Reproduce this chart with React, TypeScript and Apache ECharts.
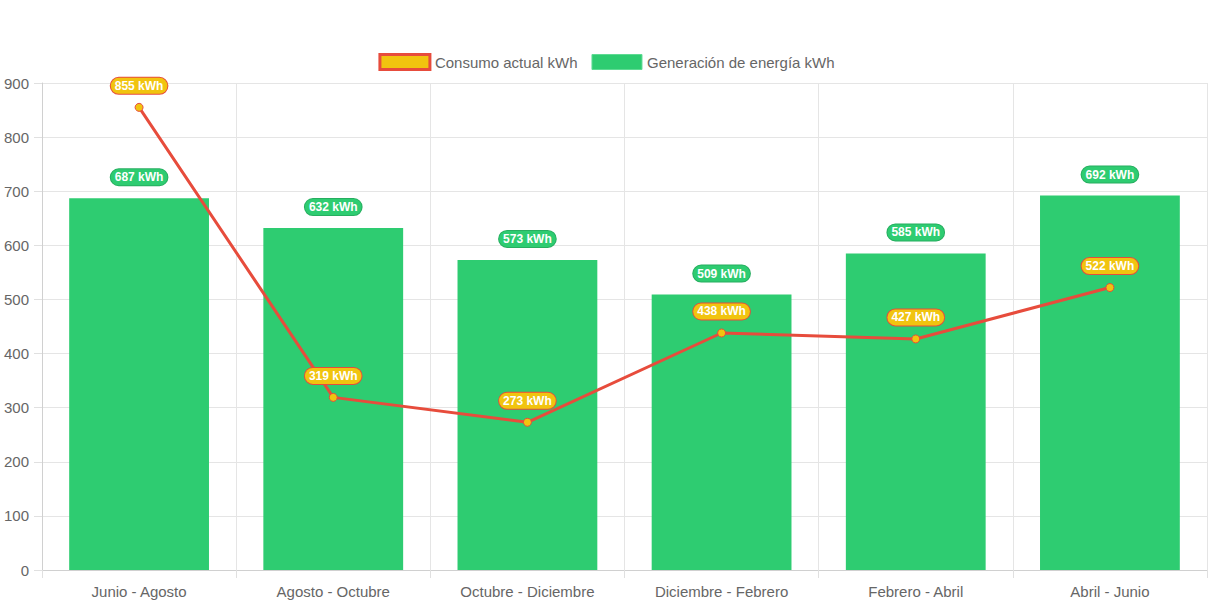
import React, { useEffect, useRef } from "react";
import * as echarts from "echarts";

const categories = [
  "Junio - Agosto",
  "Agosto - Octubre",
  "Octubre - Diciembre",
  "Diciembre - Febrero",
  "Febrero - Abril",
  "Abril - Junio",
];
const consumo = [855, 319, 273, 438, 427, 522];
const generacion = [687, 632, 573, 509, 585, 692];
const yTicks = { min: 0, max: 900, interval: 100 };

const FONT = "'Liberation Sans', Arial, Helvetica, sans-serif";

export default function App() {
  const ref = useRef<HTMLDivElement>(null);
  useEffect(() => {
    if (!ref.current) return;
    const chart = echarts.init(ref.current, undefined, { renderer: "svg" });
    chart.setOption({
      animation: false,
      textStyle: { fontFamily: FONT },
      legend: {
        top: 48,
        left: "center",
        itemWidth: 50,
        itemHeight: 15,
        itemGap: 14,
        textStyle: { color: "#666", fontSize: 15, fontFamily: FONT },
        data: [
          {
            name: "Consumo actual kWh",
            icon: "rect",
            itemStyle: { color: "#f1c40f", borderColor: "#e74c3c", borderWidth: 3 },
          },
          {
            name: "Generación de energía kWh",
            icon: "rect",
            itemStyle: { color: "#2ecc71", borderColor: "#5edb93", borderWidth: 1 },
          },
        ],
      },
      grid: { left: 42, right: 6, top: 83, bottom: 36, containLabel: false },
      xAxis: {
        type: "category",
        data: categories,
        boundaryGap: true,
        axisLine: { show: true, lineStyle: { color: "#d0d0d0", width: 1 } },
        axisTick: { show: true, length: 8, lineStyle: { color: "#e0e0e0" } },
        splitLine: { show: true, lineStyle: { color: "#e5e5e5" } },
        axisLabel: { color: "#666", fontSize: 15, margin: 14, fontFamily: FONT },
      },
      yAxis: {
        type: "value",
        min: yTicks.min,
        max: yTicks.max,
        interval: yTicks.interval,
        axisLine: { show: true, lineStyle: { color: "#d0d0d0", width: 1 } },
        axisTick: { show: true, length: 8, lineStyle: { color: "#e0e0e0" } },
        splitLine: { show: true, lineStyle: { color: "#e5e5e5" } },
        axisLabel: { color: "#666", fontSize: 15, margin: 13, fontFamily: FONT },
      },
      series: [
        {
          name: "Generación de energía kWh",
          type: "bar",
          data: generacion,
          barWidth: "72%",
          itemStyle: { color: "#2ecc71" },
          z: 2,
          label: {
            show: true,
            position: "top",
            distance: 13,
            formatter: "{c} kWh",
            color: "#fff",
            fontWeight: "bold",
            fontSize: 12,
            fontFamily: FONT,
            backgroundColor: "#2ecc71",
            borderColor: "#27ae60",
            borderWidth: 1,
            borderRadius: 8,
            padding: [2, 4, 2, 4],
          },
        },
        {
          name: "Consumo actual kWh",
          type: "line",
          data: consumo,
          z: 5,
          lineStyle: { color: "#e74c3c", width: 3 },
          itemStyle: { color: "#f1c40f", borderColor: "#e74c3c", borderWidth: 1 },
          symbol: "circle",
          symbolSize: 8,
          showAllSymbol: true,
          label: {
            show: true,
            position: "top",
            distance: 9,
            formatter: "{c} kWh",
            color: "#fff",
            fontWeight: "bold",
            fontSize: 12,
            fontFamily: FONT,
            backgroundColor: "#f1c40f",
            borderColor: "#e74c3c",
            borderWidth: 1,
            borderRadius: 8,
            padding: [2, 4, 2, 4],
          },
        },
      ],
    });
    return () => chart.dispose();
  }, []);
  return (
    <div
      ref={ref}
      style={{ position: "fixed", left: 0, top: 0, width: 1213, height: 606, background: "#fff" }}
    />
  );
}
